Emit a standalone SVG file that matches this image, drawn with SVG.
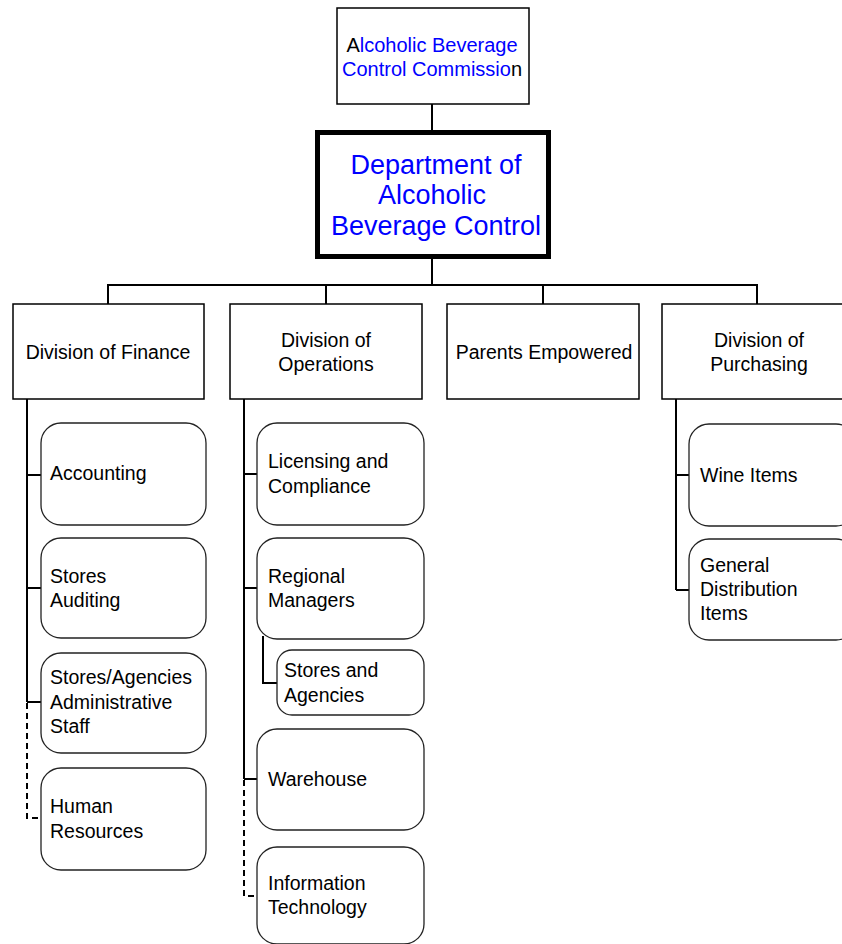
<svg xmlns="http://www.w3.org/2000/svg" width="842" height="944" viewBox="0 0 842 944">
<style>
.bg{fill:#ffffff}
.box{fill:#ffffff;stroke:#000000;stroke-width:1.5}
.main{fill:#ffffff;stroke:#000000;stroke-width:5}
.rbox{fill:#ffffff;stroke:#222222;stroke-width:1.3}
.ln{fill:none;stroke:#000000;stroke-width:2}
.dash{fill:none;stroke:#000000;stroke-width:2;stroke-dasharray:6 4}
text{font-family:"Liberation Sans",Arial,sans-serif;font-size:19.5px;fill:#000000}
.c{text-anchor:middle}
.top{font-size:20px}
.blue{fill:#0000ff}
.big{font-size:27px;fill:#0000ff}
</style>
<rect class="bg" x="0" y="0" width="842" height="944"/>
<g id="connectors">
<line class="ln" x1="432" y1="104" x2="432" y2="132"/>
<line class="ln" x1="432" y1="257" x2="432" y2="285"/>
<polyline class="ln" points="108,304 108,285 757,285 757,304"/>
<line class="ln" x1="326" y1="285" x2="326" y2="304"/>
<line class="ln" x1="543" y1="285" x2="543" y2="304"/>
<line class="ln" x1="27" y1="399" x2="27" y2="702"/>
<line class="ln" x1="27" y1="475" x2="41" y2="475"/>
<line class="ln" x1="27" y1="588" x2="41" y2="588"/>
<line class="ln" x1="27" y1="702" x2="41" y2="702"/>
<polyline class="dash" points="27,703 27,818 41,818"/>
<line class="ln" x1="244" y1="399" x2="244" y2="779"/>
<line class="ln" x1="244" y1="474" x2="257" y2="474"/>
<line class="ln" x1="244" y1="588" x2="257" y2="588"/>
<line class="ln" x1="244" y1="779" x2="257" y2="779"/>
<polyline class="ln" points="263,636 263,683 277,683"/>
<polyline class="dash" points="244,780 244,896 257,896"/>
<line class="ln" x1="676" y1="399" x2="676" y2="590"/>
<line class="ln" x1="676" y1="475" x2="689" y2="475"/>
<line class="ln" x1="676" y1="590" x2="689" y2="590"/>
</g>
<g id="commission">
<rect class="box" x="337" y="8" width="192" height="96"/>
<text class="c top" x="432" y="52">A<tspan class="blue">lcoholic Beverage</tspan></text>
<text class="c top" x="432" y="76"><tspan class="blue">Control Commissio</tspan>n</text>
</g>
<g id="department">
<rect class="main" x="317.5" y="132.5" width="231" height="124"/>
<text class="big c" x="436" y="174">Department of</text>
<text class="big c" x="432" y="204">Alcoholic</text>
<text class="big c" x="436" y="235">Beverage Control</text>
</g>
<g id="finance">
<rect class="box" x="13" y="304" width="191" height="95"/>
<text class="c" x="108" y="359">Division of Finance</text>
</g>
<g id="operations">
<rect class="box" x="230" y="304" width="192" height="95"/>
<text class="c" x="326" y="347">Division of</text>
<text class="c" x="326" y="371">Operations</text>
</g>
<g id="parents">
<rect class="box" x="447" y="304" width="192" height="95"/>
<text class="c" x="544" y="359">Parents Empowered</text>
</g>
<g id="purchasing">
<rect class="box" x="662" y="304" width="193" height="95"/>
<text class="c" x="759" y="347">Division of</text>
<text class="c" x="759" y="371">Purchasing</text>
</g>
<g id="accounting">
<rect class="rbox" x="41" y="423" width="165" height="102" rx="20"/>
<text x="50" y="480">Accounting</text>
</g>
<g id="stores-auditing">
<rect class="rbox" x="41" y="538" width="165" height="100" rx="20"/>
<text x="50" y="583">Stores</text>
<text x="50" y="607">Auditing</text>
</g>
<g id="stores-agencies-admin">
<rect class="rbox" x="41" y="653" width="165" height="100" rx="20"/>
<text x="50" y="684">Stores/Agencies</text>
<text x="50" y="709">Administrative</text>
<text x="50" y="733">Staff</text>
</g>
<g id="human-resources">
<rect class="rbox" x="41" y="768" width="165" height="102" rx="20"/>
<text x="50" y="813">Human</text>
<text x="50" y="838">Resources</text>
</g>
<g id="licensing">
<rect class="rbox" x="257" y="423" width="167" height="102" rx="20"/>
<text x="268" y="468">Licensing and</text>
<text x="268" y="493">Compliance</text>
</g>
<g id="regional">
<rect class="rbox" x="257" y="538" width="167" height="101" rx="20"/>
<text x="268" y="583">Regional</text>
<text x="268" y="607">Managers</text>
</g>
<g id="stores-and-agencies">
<rect class="rbox" x="277" y="650" width="147" height="65" rx="15"/>
<text x="284" y="677">Stores and</text>
<text x="284" y="702">Agencies</text>
</g>
<g id="warehouse">
<rect class="rbox" x="257" y="729" width="167" height="101" rx="20"/>
<text x="268" y="786">Warehouse</text>
</g>
<g id="information-technology">
<rect class="rbox" x="257" y="847" width="167" height="97" rx="20"/>
<text x="268" y="890">Information</text>
<text x="268" y="914">Technology</text>
</g>
<g id="wine-items">
<rect class="rbox" x="689" y="424" width="167" height="102" rx="20"/>
<text x="700" y="482">Wine Items</text>
</g>
<g id="general-distribution">
<rect class="rbox" x="689" y="539" width="167" height="101" rx="20"/>
<text x="700" y="572">General</text>
<text x="700" y="596">Distribution</text>
<text x="700" y="620">Items</text>
</g>
</svg>
